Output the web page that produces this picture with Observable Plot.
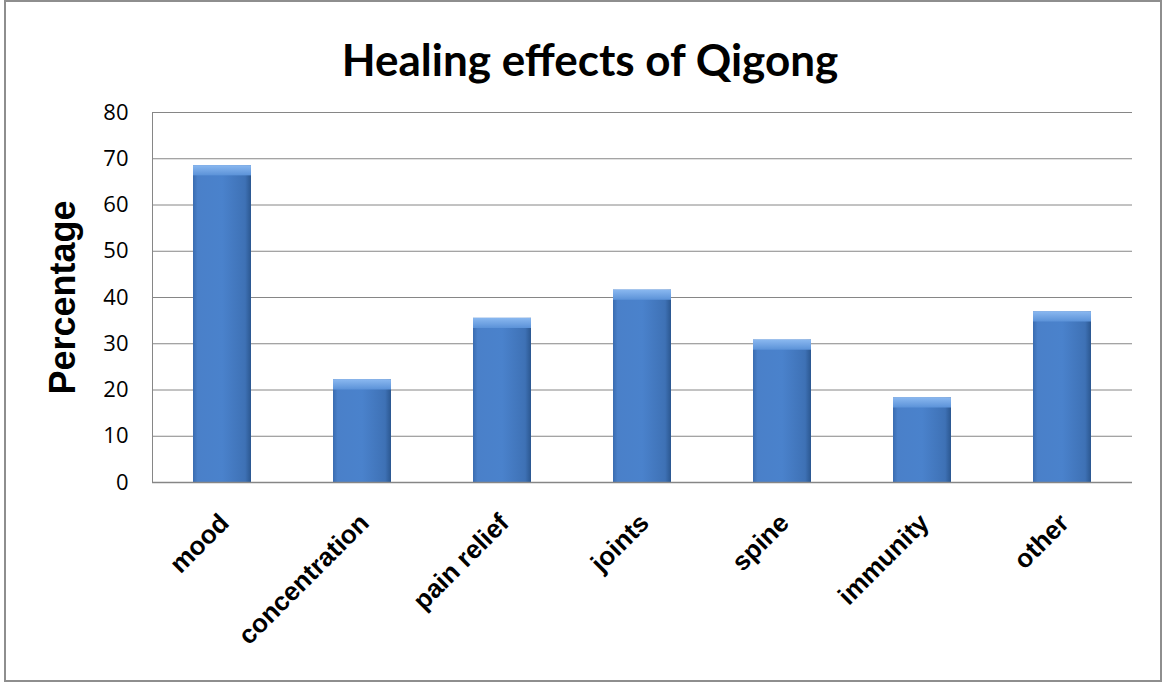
<!DOCTYPE html>
<html>
<head>
<meta charset="utf-8">
<script src="https://cdn.jsdelivr.net/npm/d3@7"></script>
<script src="https://cdn.jsdelivr.net/npm/@observablehq/plot@0.6"></script>
<style>
  html, body { margin: 0; padding: 0; background: #fff; }
  #frame { position: absolute; left: 4px; top: 0px; width: 1154px; height: 678px; border: 2px solid #8e8e8e; box-sizing: content-box; }
  #title { position: absolute; left: 0; top: 37px; width: 1180px; text-align: center; font-family: Lato, "Open Sans", sans-serif; font-weight: 700; font-size: 44px; color: #000; line-height: 1; }
  #chart { position: absolute; left: 0; top: 95px; }
</style>
</head>
<body>
<div id="frame"></div>
<div id="title">Healing effects of Qigong</div>
<div id="chart"></div>
<script>
const categories = ["mood", "concentration", "pain relief", "joints", "spine", "immunity", "other"];
const values = [68.5, 22.2, 35.5, 41.6, 30.8, 18.3, 36.9];
const yTicks = [0, 10, 20, 30, 40, 50, 60, 70, 80];
const yLabel = "Percentage";

const data = categories.map((c, i) => ({category: c, value: values[i]}));

const chart = Plot.plot({
  width: 1164,
  height: 560,
  marginTop: 17,
  marginBottom: 173,
  marginLeft: 152,
  marginRight: 32,
  style: {fontFamily: "'Open Sans', Lato, sans-serif", fontSize: "22px", color: "#000", background: "transparent"},
  x: {domain: categories, paddingInner: 0.585, paddingOuter: 0.2925, axis: null},
  y: {domain: [0, 80], ticks: yTicks, label: null},
  marks: [
    Plot.gridY(yTicks, {stroke: "#868686", strokeOpacity: 1, strokeWidth: 1}),
    Plot.axisY(yTicks, {tickSize: 0, tickPadding: 24, fontSize: 22, label: null}),
    Plot.barY(data, {x: "category", y: "value", fill: "url(#barGradH)"}),
    Plot.barY(data, {x: "category", y1: d => d.value - 2.2, y2: "value", fill: "url(#barGradV)"}),
    Plot.frame({anchor: "left", stroke: "#868686"}),
    Plot.ruleY([0], {stroke: "#868686", strokeWidth: 1.5}),
    Plot.text(categories, {x: d => d, frameAnchor: "bottom", dx: 8, dy: 42, rotate: -45, textAnchor: "end",
      fontFamily: "Arial, 'Liberation Sans', sans-serif", fontWeight: "bold", fontSize: 26, fill: "#000"}),
    Plot.text([yLabel], {frameAnchor: "left", dx: -89, rotate: -90, textAnchor: "middle",
      fontFamily: "Arial, 'Liberation Sans', sans-serif", fontWeight: "bold", fontSize: 36, fill: "#000"})
  ]
});

const ns = "http://www.w3.org/2000/svg";
const defs = document.createElementNS(ns, "defs");
defs.innerHTML = `
  <linearGradient id="barGradH" x1="0" x2="1" y1="0" y2="0">
    <stop offset="0" stop-color="#3a6cb0"/>
    <stop offset="0.08" stop-color="#4a80c9"/>
    <stop offset="0.5" stop-color="#4a82cc"/>
    <stop offset="0.9" stop-color="#3e71b5"/>
    <stop offset="1" stop-color="#2b5790"/>
  </linearGradient>
  <linearGradient id="barGradV" x1="0" x2="0" y1="0" y2="1">
    <stop offset="0" stop-color="#8ab8f0"/>
    <stop offset="1" stop-color="#5b92d8"/>
  </linearGradient>`;
chart.insertBefore(defs, chart.firstChild);
document.getElementById("chart").appendChild(chart);
</script>
</body>
</html>
